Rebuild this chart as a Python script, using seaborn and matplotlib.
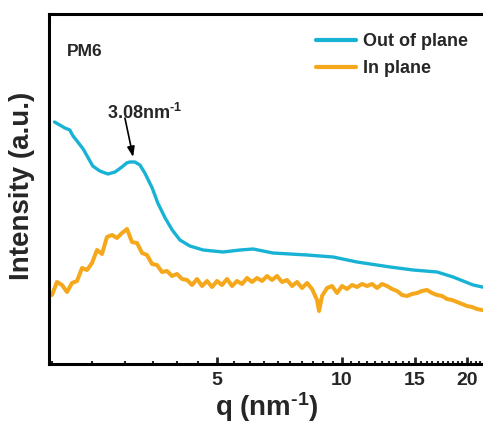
import matplotlib
matplotlib.use("Agg")
import matplotlib.pyplot as plt
import seaborn as sns
import pandas as pd
from matplotlib.ticker import FixedLocator, NullFormatter, FixedFormatter

# ---------------- data ----------------
q_oop = [2.03, 2.09, 2.15, 2.21, 2.25, 2.30, 2.38, 2.44, 2.51, 2.61, 2.73, 2.84, 2.95,
         3.03, 3.08, 3.17, 3.26, 3.35, 3.49, 3.60, 3.75, 3.90, 4.07, 4.30, 4.63, 5.17,
         5.68, 6.11, 6.82, 8.24, 9.52, 10.87, 13.06, 14.83, 16.95, 18.52, 20.70, 22.35]
I_oop = [242, 239, 236, 234, 228, 223, 215, 207, 198, 193, 190, 192, 197,
         201, 202, 202, 199, 191, 176, 161, 146, 134, 124, 118, 114, 112,
         114, 115, 111, 109, 107, 102, 97, 94, 92, 87, 79, 76]

q_ip = [2.002, 2.058, 2.116, 2.176, 2.237, 2.300, 2.365, 2.431, 2.499, 2.570, 2.642,
        2.716, 2.793, 2.871, 2.952, 3.035, 3.120, 3.208, 3.299, 3.391, 3.487, 3.585,
        3.685, 3.789, 3.896, 4.005, 4.118, 4.234, 4.353, 4.475, 4.601, 4.731, 4.864,
        5.000, 5.141, 5.285, 5.434, 5.587, 5.744, 5.906, 6.072, 6.243, 6.418, 6.599,
        6.784, 6.975, 7.171, 7.373, 7.580, 7.793, 8.012, 8.238, 8.469, 8.708, 8.805,
        8.952, 9.204, 9.463, 9.729, 10.003, 10.284, 10.573, 10.871, 11.176, 11.490,
        11.813, 12.146, 12.487, 12.838, 13.199, 13.570, 13.952, 14.344, 14.747, 15.162,
        15.588, 16.026, 16.477, 16.940, 17.416, 17.906, 18.409, 18.927, 19.459, 20.006,
        20.569, 21.147, 21.741, 22.352]
I_ip = [69, 82, 79, 72, 81, 83, 96, 94, 101, 114, 110, 127, 129, 126, 131, 135, 122,
        121, 111, 109, 100, 99, 92, 93, 88, 90, 85, 84, 79, 85, 78, 83, 77, 83, 79,
        85, 78, 83, 80, 86, 82, 86, 83, 88, 84, 88, 82, 84, 78, 82, 76, 81, 75, 64,
        53, 68, 76, 78, 71, 78, 75, 79, 77, 80, 78, 80, 76, 80, 78, 75, 73, 69, 68,
        70, 71, 73, 74, 71, 69, 68, 65, 64, 62, 60, 58, 57, 55, 54, 53]

series_labels = ["Out of plane", "In plane"]
sample_name = "PM6"
peak_label = "3.08"
peak_q = 3.14
peak_I = 207
xtick_vals = [5, 10, 15, 20]
xtick_labels = ["5", "10", "15", "20"]
minor_vals = [v / 2 for v in range(4, 45) if (v / 2) not in xtick_vals]

c_oop = "#18b2d4"
c_ip = "#f6a81c"

# ---------------- style ----------------
sns.set_style("ticks")
plt.rcParams["font.family"] = ["Liberation Sans", "DejaVu Sans"]
plt.rcParams["font.weight"] = "bold"
plt.rcParams["mathtext.fontset"] = "custom"
plt.rcParams["mathtext.rm"] = "Liberation Sans:bold"
plt.rcParams["mathtext.bf"] = "Liberation Sans:bold"
plt.rcParams["mathtext.it"] = "Liberation Sans:bold"

W, H = 483, 425
fig = plt.figure(figsize=(W / 100, H / 100), dpi=100)
ax = fig.add_axes([49 / W, 61 / H, (487 - 49) / W, 350 / H])

df_oop = pd.DataFrame({"q": q_oop, "I": I_oop})
df_ip = pd.DataFrame({"q": q_ip, "I": I_ip})
sns.lineplot(data=df_oop, x="q", y="I", ax=ax, color=c_oop, lw=2.4,
             estimator=None, sort=False, label=series_labels[0])
sns.lineplot(data=df_ip, x="q", y="I", ax=ax, color=c_ip, lw=2.9,
             estimator=None, sort=False, label=series_labels[1])

ax.set_xscale("log")
ax.set_xlim(1.969, 22.35)
ax.set_ylim(0, 350)
ax.xaxis.set_major_locator(FixedLocator(xtick_vals))
ax.xaxis.set_major_formatter(FixedFormatter(xtick_labels))
ax.xaxis.set_minor_locator(FixedLocator(minor_vals))
ax.xaxis.set_minor_formatter(NullFormatter())
ax.set_yticks([])
ax.set_xlabel("")
ax.set_ylabel("")

ax.tick_params(axis="x", which="major", direction="in", length=5, width=2,
               labelsize=14, pad=6, top=False)
ax.tick_params(axis="x", which="minor", direction="in", length=2.5, width=1.5, top=False)
for lab in ax.get_xticklabels():
    lab.set_fontweight("bold")

for s in ["left", "bottom", "top"]:
    ax.spines[s].set_linewidth(2.2)
    ax.spines[s].set_color("black")
ax.spines["right"].set_visible(False)

leg = ax.legend(loc="upper left", bbox_to_anchor=(316 / W, 1 - 33 / H),
                bbox_transform=fig.transFigure, frameon=False, borderpad=0,
                borderaxespad=0, handlelength=2.2, handletextpad=0.4,
                labelspacing=0.58, prop={"size": 13, "weight": "bold"})
for line in leg.get_lines():
    line.set_linewidth(3)

fig.text(67 / W, 1 - 51 / H, sample_name, ha="left", va="center",
         fontsize=12.5, fontweight="bold")

ax.text(3.35, 251, peak_label + "nm$^{\\mathbf{\u20101}}$", ha="center", va="center",
        fontsize=13, fontweight="bold")
ax.annotate("", xy=(peak_q, peak_I), xytext=(3.0, 246),
            arrowprops=dict(arrowstyle="-|>,head_length=0.6,head_width=0.22",
                            color="black", lw=1.2, shrinkA=0, shrinkB=0))

fig.text(22 / W, 1 - 186 / H, "Intensity (a.u.)", rotation=90, ha="center",
         va="center", fontsize=20, fontweight="bold")
fig.text(267 / W, 1 - 407 / H, "q (nm$^{\\mathbf{\u20101}}$)", ha="center", va="center",
         fontsize=20, fontweight="bold")

fig.savefig("out.png", dpi=100)
